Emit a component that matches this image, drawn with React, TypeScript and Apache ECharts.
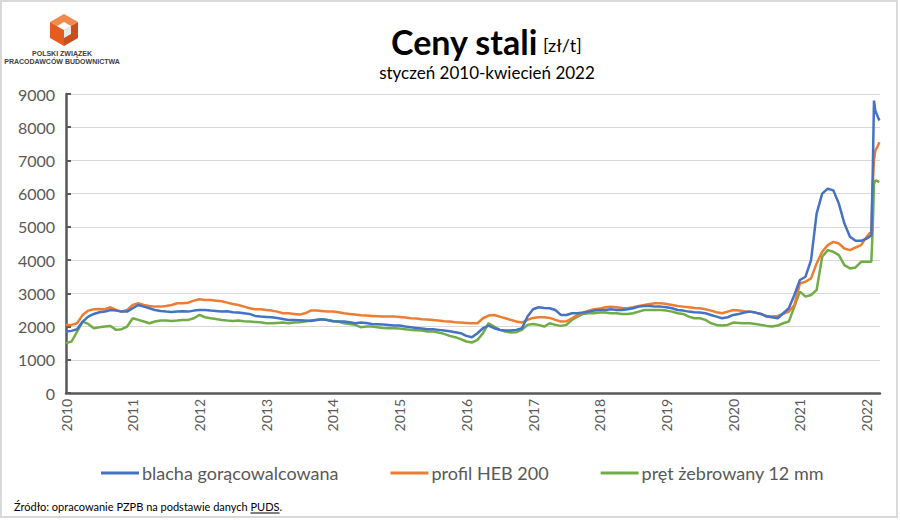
import React, { useEffect, useRef } from "react";
import * as echarts from "echarts";

const seriesNames = ["blacha gorącowalcowana", "profil HEB 200", "pręt żebrowany 12 mm"];
const colors = ["#4472c4", "#ed7d31", "#70ad47"];
const yTicks = [0, 1000, 2000, 3000, 4000, 5000, 6000, 7000, 8000, 9000];
const years = [2010, 2011, 2012, 2013, 2014, 2015, 2016, 2017, 2018, 2019, 2020, 2021, 2022];

// monthly readings 2010-01 .. 2021-12, then weekly points in 2022
const firstYear = 2010;
const x2022 = [2022.0, 2022.04, 2022.07, 2022.09, 2022.11, 2022.13, 2022.16, 2022.19];

const blacha = [
  1850, 1870, 1920, 2150, 2300, 2380, 2430, 2450, 2500, 2480, 2450, 2450,
  2550, 2650, 2600, 2550, 2500, 2470, 2450, 2440, 2450, 2460, 2450, 2480,
  2500, 2500, 2480, 2470, 2450, 2460, 2430, 2420, 2400, 2380, 2320, 2300,
  2290, 2280, 2260, 2230, 2200, 2200, 2190, 2180, 2170, 2200, 2220, 2200,
  2160, 2150, 2150, 2130, 2100, 2120, 2110, 2080, 2070, 2060, 2050, 2030,
  2030, 2000, 1980, 1960, 1940, 1920, 1920, 1900, 1880, 1860, 1830, 1800,
  1720, 1680, 1800, 1950, 2030, 1950, 1900, 1880, 1880, 1900, 1950, 2300,
  2520, 2580, 2560, 2550, 2500, 2350, 2350, 2400, 2400, 2420, 2450, 2480,
  2500, 2500, 2520, 2500, 2500, 2520, 2550, 2600, 2620, 2620, 2600, 2600,
  2580, 2550, 2500, 2480, 2450, 2430, 2420, 2400, 2350, 2300, 2250, 2280,
  2350, 2380, 2420, 2450, 2420, 2380, 2300, 2280, 2250, 2400, 2550, 2950,
  3400, 3500, 4000, 5400, 6000, 6150, 6100, 5700, 5100, 4700, 4580, 4580,
];
const blacha2022 = [4650, 4700, 4750, 6500, 8800, 8500, 8350, 8200];

const profil = [
  2050, 2050, 2100, 2350, 2480, 2520, 2530, 2520, 2580, 2500, 2450, 2500,
  2650, 2700, 2650, 2620, 2600, 2600, 2620, 2650, 2700, 2700, 2720, 2780,
  2820, 2800, 2800, 2780, 2760, 2720, 2680, 2650, 2600, 2550, 2520, 2520,
  2500, 2480, 2450, 2400, 2400, 2380, 2360, 2400, 2480, 2480, 2470, 2450,
  2450, 2430, 2400, 2380, 2360, 2340, 2330, 2320, 2310, 2300, 2300, 2300,
  2290, 2270, 2250, 2240, 2220, 2210, 2200, 2180, 2160, 2150, 2130, 2120,
  2110, 2100, 2100, 2250, 2330, 2350, 2300, 2250, 2200, 2150, 2120, 2200,
  2260, 2280, 2280, 2260, 2200, 2150, 2160, 2250, 2350, 2420, 2480, 2520,
  2540, 2580, 2600, 2580, 2560, 2550, 2580, 2620, 2650, 2680, 2700, 2700,
  2680, 2650, 2620, 2600, 2580, 2560, 2550, 2520, 2480, 2430, 2400, 2450,
  2500, 2480, 2460, 2450, 2420, 2380, 2320, 2300, 2320, 2380, 2450, 2650,
  3300, 3350, 3450, 3900, 4250, 4450, 4550, 4500, 4350, 4300, 4380, 4450,
];
const profil2022 = [4700, 4800, 4850, 6200, 7000, 7300, 7400, 7550];

const pret = [
  1500, 1550, 1850, 2150, 2080, 1950, 1980, 2000, 2020, 1900, 1920, 2000,
  2250, 2200, 2150, 2100, 2150, 2180, 2180, 2170, 2180, 2200, 2200, 2250,
  2350, 2280, 2250, 2230, 2200, 2180, 2170, 2180, 2160, 2150, 2140, 2130,
  2100, 2100, 2110, 2120, 2100, 2120, 2130, 2150, 2180, 2200, 2220, 2200,
  2170, 2150, 2100, 2080, 2050, 1980, 2000, 2000, 1980, 1960, 1950, 1950,
  1940, 1920, 1900, 1890, 1880, 1850, 1850, 1820, 1780, 1720, 1680, 1620,
  1550, 1520, 1600, 1800, 2100, 2000, 1900, 1850, 1820, 1830, 1900, 2050,
  2080, 2050, 2000, 2100, 2050, 2020, 2050, 2200, 2300, 2380, 2400, 2400,
  2420, 2420, 2400, 2400, 2380, 2380, 2400, 2450, 2500, 2500, 2500, 2500,
  2480, 2450, 2400, 2380, 2300, 2250, 2250, 2200, 2100, 2050, 2030, 2050,
  2120, 2110, 2100, 2100, 2080, 2050, 2020, 2000, 2030, 2100, 2150, 2600,
  3050, 2900, 2950, 3100, 4100, 4300, 4250, 4150, 3850, 3750, 3780, 3950,
];
const pret2022 = [3950, 3950, 3950, 4900, 6300, 6400, 6380, 6350];

function toPoints(monthly: number[], tail: number[]) {
  const pts: number[][] = monthly.map((v, i) => [firstYear + i / 12, v]);
  tail.forEach((v, i) => pts.push([x2022[i], v]));
  return pts;
}

const FONT = "Lato, 'Noto Sans', sans-serif";
const SRC_FONT = "11px " + FONT;
const SRC_TEXT = "Źródło: opracowanie PZPB na podstawie danych ";

function measure(text: string, font: string) {
  const c = document.createElement("canvas").getContext("2d");
  if (!c) return text.length * 5.5;
  c.font = font;
  return c.measureText(text).width;
}

export default function App() {
  const ref = useRef<HTMLDivElement>(null);
  useEffect(() => {
    document.body.style.margin = "0";
    const chart = echarts.init(ref.current!, null, { renderer: "svg" });
    const data = [toPoints(blacha, blacha2022), toPoints(profil, profil2022), toPoints(pret, pret2022)];
    const srcW = measure(SRC_TEXT, SRC_FONT);
    const pudsW = measure("PUDS", SRC_FONT);
    const pudsX = 14 + srcW;
    chart.setOption({
      animation: false,
      backgroundColor: "#ffffff",
      textStyle: { fontFamily: FONT },
      grid: { left: 66, right: 20, top: 94, bottom: 127 },
      xAxis: {
        type: "value",
        min: years[0],
        max: 2022.2,
        interval: 1,
        splitLine: { show: false },
        axisLine: { lineStyle: { color: "#595959", width: 2.5 } },
        axisTick: { show: false },
        axisLabel: {
          rotate: 90,
          color: "#595959",
          fontSize: 14,
          fontFamily: FONT,
          margin: 6,
          formatter: (v: number) => (years.indexOf(v) >= 0 ? String(v) : ""),
        },
      },
      yAxis: {
        type: "value",
        min: yTicks[0],
        max: yTicks[yTicks.length - 1],
        interval: 1000,
        axisLine: { show: true, lineStyle: { color: "#595959", width: 2.5 } },
        axisTick: { show: true, inside: true, length: 5, lineStyle: { color: "#595959", width: 2 } },
        splitLine: { lineStyle: { color: "#d9d9d9", width: 1 } },
        axisLabel: {
          color: "#595959",
          fontSize: 16,
          fontFamily: FONT,
          margin: 11,
          formatter: (v: number) => String(v),
        },
      },
      legend: {
        left: 96,
        top: 459,
        itemWidth: 38,
        itemHeight: 3,
        itemGap: 52,
        icon: "rect",
        textStyle: { color: "#595959", fontSize: 18, fontFamily: FONT, padding: [0, 0, 0, -2] },
        data: seriesNames,
      },
      series: seriesNames.map((name, i) => ({
        name,
        type: "line",
        data: data[i],
        showSymbol: false,
        symbol: "none",
        color: colors[i],
        lineStyle: { width: 2.5, color: colors[i] },
        z: 3 - i,
      })),
      graphic: [
        { type: "rect", shape: { x: 1, y: 1, width: 896, height: 516 }, style: { fill: "none", stroke: "#d9d9d9", lineWidth: 2 }, silent: true },
        // logo cube
        { type: "polygon", shape: { points: [[64, 14], [78, 22], [64, 30], [50, 22]] }, style: { fill: "#f28a4e" } },
        { type: "polygon", shape: { points: [[50, 22], [64, 30], [64, 46], [50, 38]] }, style: { fill: "#e55c21" } },
        { type: "polygon", shape: { points: [[64, 30], [78, 22], [78, 38], [64, 46]] }, style: { fill: "#c9501d" } },
        { type: "polygon", shape: { points: [[64, 30], [71, 26], [71, 34], [64, 38]] }, style: { fill: "#e8e8e8" } },
        { type: "polygon", shape: { points: [[64, 30], [71, 26], [64, 22], [57, 26]] }, style: { fill: "#ffffff" } },
        { type: "text", style: { text: "POLSKI ZWIĄZEK", x: 62, y: 50, fill: "#404040", font: "bold 7px 'Liberation Sans', Arial, sans-serif", textAlign: "center" } },
        { type: "text", style: { text: "PRACODAWCÓW BUDOWNICTWA", x: 62, y: 58, fill: "#404040", font: "bold 7px 'Liberation Sans', Arial, sans-serif", textAlign: "center" } },
        // title
        { type: "text", style: { text: "Ceny stali", x: 391, y: 24, fill: "#000000", font: "bold 34px " + FONT } },
        { type: "text", style: { text: "[zł/t]", x: 543, y: 36, fill: "#000000", font: "18px " + FONT } },
        { type: "text", style: { text: "styczeń 2010-kwiecień 2022", x: 487, y: 64, fill: "#000000", font: "17px " + FONT, textAlign: "center" } },
        // source
        { type: "text", style: { text: SRC_TEXT, x: 14, y: 501, fill: "#000000", font: SRC_FONT } },
        { type: "text", style: { text: "PUDS", x: pudsX, y: 501, fill: "#000000", font: SRC_FONT } },
        { type: "line", shape: { x1: pudsX, y1: 513, x2: pudsX + pudsW, y2: 513 }, style: { stroke: "#000000", lineWidth: 1 } },
        { type: "text", style: { text: ".", x: pudsX + pudsW, y: 501, fill: "#000000", font: SRC_FONT } },
      ],
    });
    return () => chart.dispose();
  }, []);
  return <div ref={ref} style={{ position: "fixed", left: 0, top: 0, width: 900, height: 520 }} />;
}
